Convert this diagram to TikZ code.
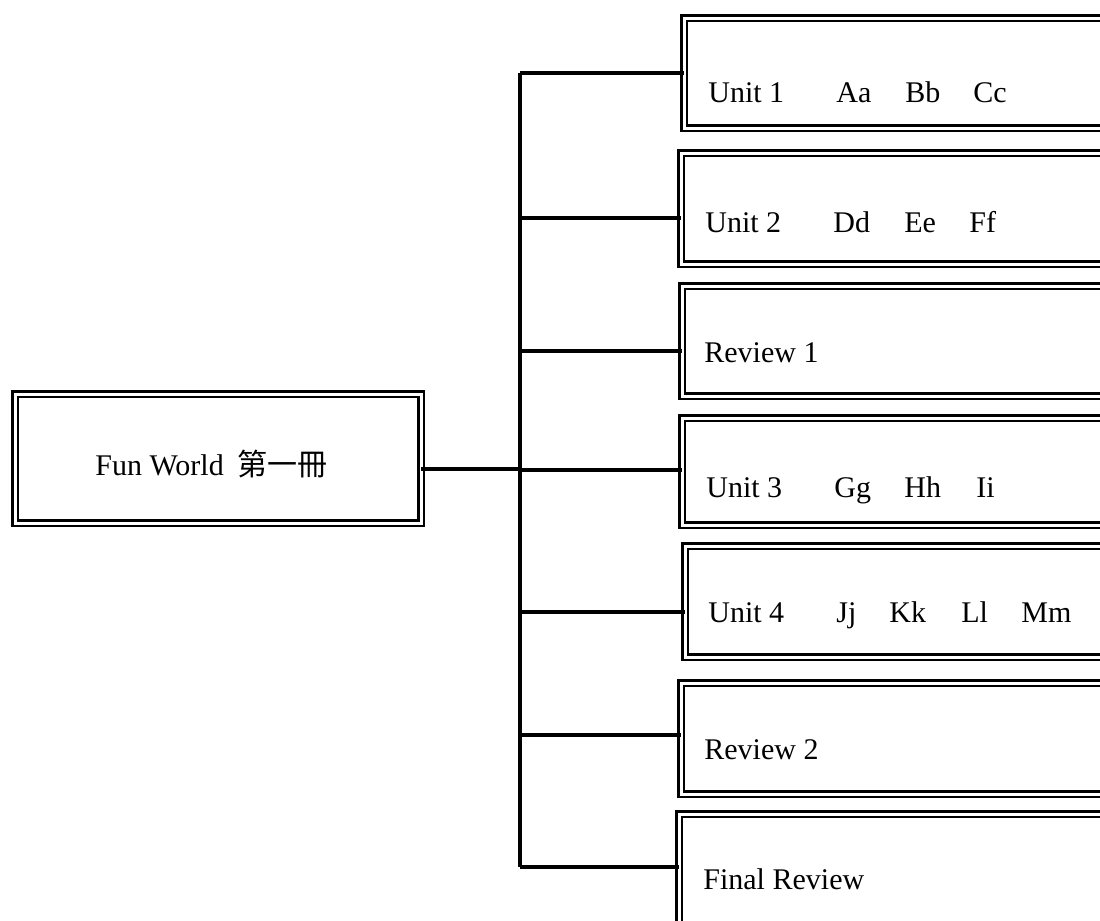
\documentclass[tikz,border=0pt]{standalone}
\usepackage{fontspec}
\setmainfont{Liberation Serif}
\newfontfamily\cjk{Noto Sans CJK TC}
\begin{document}
\begin{tikzpicture}[x=0.5pt,y=-0.5pt,
  boxstyle/.style={draw, double, line width=1.25pt, double distance=1.5pt, rectangle,
    inner sep=0pt, outer sep=0pt, anchor=north west, minimum width=220pt},
  conn/.style={line width=1.8pt},
  lbl/.style={anchor=base west, inner sep=0pt, font=\fontsize{15pt}{18pt}\selectfont}]
\useasboundingbox (0,0) rectangle (1100,921);
\clip (0,0) rectangle (1100,921);
\fill[white] (0,0) rectangle (1100,921);
% boxes
\node[boxstyle, minimum width=203pt, minimum height=64.5pt] (root) at (15,394) {};
\node[boxstyle, minimum height=55pt]   (b1) at (684,18) {};
\node[boxstyle, minimum height=55.5pt] (b2) at (681,153) {};
\node[boxstyle, minimum height=55pt]   (b3) at (682,286) {};
\node[boxstyle, minimum height=53.5pt] (b4) at (682,418) {};
\node[boxstyle, minimum height=55.5pt] (b5) at (685,546) {};
\node[boxstyle, minimum height=55.5pt] (b6) at (681,683) {};
\node[boxstyle, minimum height=75pt]   (b7) at (679,814) {};
% texts
\node[lbl] (l0) at (95,475) {Fun World\hspace{7pt}{\cjk 第一冊}};
\node[lbl] (l1) at (708,102) {\makebox[64pt][l]{Unit 1}\makebox[34.5pt][l]{Aa}\makebox[34pt][l]{Bb}Cc};
\node[lbl] (l2) at (705,232) {\makebox[64pt][l]{Unit 2}\makebox[35.5pt][l]{Dd}\makebox[32.5pt][l]{Ee}Ff};
\node[lbl] (l3) at (704,362) {Review 1};
\node[lbl] (l4) at (706,497) {\makebox[64pt][l]{Unit 3}\makebox[35pt][l]{Gg}\makebox[36pt][l]{Hh}Ii};
\node[lbl] (l5) at (708,622) {\makebox[64pt][l]{Unit 4}\makebox[26.5pt][l]{Jj}\makebox[36pt][l]{Kk}\makebox[30pt][l]{Ll}Mm};
\node[lbl] (l6) at (704,759) {Review 2};
\node[lbl] (l7) at (703,889) {Final Review};
% trunk and branches
\coordinate (t0) at (520,469);
\coordinate (t1) at (520,73);
\coordinate (t2) at (520,218);
\coordinate (t3) at (520,351);
\coordinate (t4) at (520,470);
\coordinate (t5) at (520,612);
\coordinate (t6) at (520,735);
\coordinate (t7) at (520,867);
\draw[conn] (t1) -- (t7);
\draw[conn] (root.east |- t0) -- (t0);
\draw[conn] (t1) -- (t1 -| b1.west);
\draw[conn] (t2) -- (t2 -| b2.west);
\draw[conn] (t3) -- (t3 -| b3.west);
\draw[conn] (t4) -- (t4 -| b4.west);
\draw[conn] (t5) -- (t5 -| b5.west);
\draw[conn] (t6) -- (t6 -| b6.west);
\draw[conn] (t7) -- (t7 -| b7.west);
\end{tikzpicture}
\end{document}
